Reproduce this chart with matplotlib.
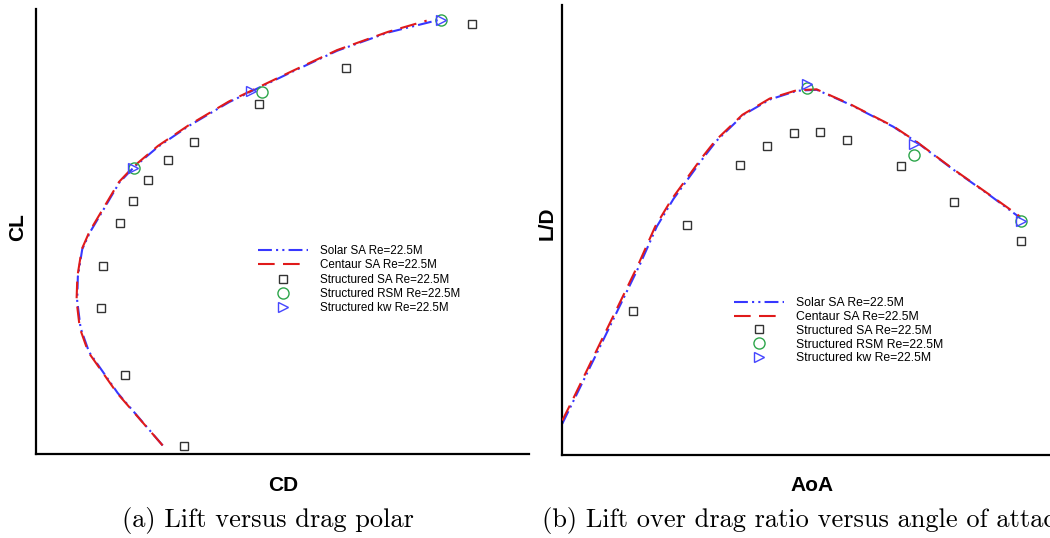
import matplotlib.pyplot as plt

plt.rcParams['font.family'] = ['Liberation Sans', 'DejaVu Sans']
plt.rcParams['lines.scale_dashes'] = False

# (a) lift versus drag polar
solar_cd = [0.01781, 0.01504, 0.01327, 0.01275, 0.01254, 0.01258, 0.01285, 0.01333, 0.01421,
            0.01514, 0.01604, 0.01754, 0.01941, 0.02191, 0.02357, 0.02586, 0.02857, 0.03169, 0.03482]
solar_cl = [-0.275, -0.122, -0.002, 0.068, 0.148, 0.218, 0.298, 0.348, 0.418,
            0.493, 0.538, 0.598, 0.658, 0.728, 0.766, 0.818, 0.878, 0.931, 0.968]
centaur_cd = [0.01781, 0.01500, 0.01322, 0.01270, 0.01250, 0.01255, 0.01282, 0.01330, 0.01418,
              0.01512, 0.01602, 0.01752, 0.01940, 0.02190, 0.02357, 0.02586, 0.02857, 0.03169, 0.03409]
centaur_cl = [-0.275, -0.122, -0.002, 0.068, 0.148, 0.218, 0.298, 0.350, 0.420,
              0.495, 0.540, 0.600, 0.660, 0.730, 0.768, 0.820, 0.880, 0.933, 0.966]
sa_cd = [0.0369, 0.0291, 0.02376, 0.01972, 0.01812, 0.01689, 0.01598, 0.01518, 0.01414, 0.01402, 0.0155, 0.0191]
sa_cl = [0.956, 0.829, 0.722, 0.612, 0.558, 0.501, 0.438, 0.376, 0.249, 0.127, -0.070, -0.277]
rsm_cd = [0.03496, 0.02391, 0.01604]
rsm_cl = [0.968, 0.757, 0.536]
kw_cd = [0.03496, 0.02326, 0.01598]
kw_cl = [0.968, 0.759, 0.536]

# (b) lift over drag versus angle of attack
solar_aoa = [-2.66, -2.25, -1.37, -0.37, 0.25, 0.88, 1.50, 2.62, 3.12, 4.12,
             5.12, 6.12, 6.86, 8.11, 9.73, 10.61, 11.98, 13.35, 14.47]
solar_ld = [1.54, 2.66, 5.06, 7.81, 9.52, 11.41, 12.78, 14.84, 15.70, 16.99,
            17.76, 18.19, 18.24, 17.50, 16.39, 15.61, 14.24, 12.95, 11.84]
centaur_aoa = [-2.66, -2.30, -1.43, -0.43, 0.19, 0.82, 1.44, 2.56, 3.07, 4.08,
               5.10, 6.12, 6.86, 8.11, 9.73, 10.61, 11.98, 13.35, 14.47]
centaur_ld = [1.70, 2.66, 5.06, 7.81, 9.52, 11.41, 12.78, 14.84, 15.70, 16.99,
              17.80, 18.22, 18.26, 17.52, 16.41, 15.63, 14.26, 12.97, 11.90]
sa_aoa = [0, 2, 4, 5, 6, 7, 8, 10, 12, 14.5]
sa_ld = [7.17, 11.50, 14.48, 15.41, 16.06, 16.15, 15.75, 14.41, 12.65, 10.69]
rsm_aoa = [6.5, 10.5, 14.5]
rsm_ld = [18.31, 15.00, 11.67]
kw_aoa = [6.5, 10.5, 14.5]
kw_ld = [18.53, 15.53, 11.67]

labels = ['Solar SA Re=22.5M', 'Centaur SA Re=22.5M', 'Structured SA Re=22.5M',
          'Structured RSM Re=22.5M', 'Structured kw Re=22.5M']

W, H = 1050, 538
fig = plt.figure(figsize=(10.5, 5.38), dpi=100)
ax1 = fig.add_axes([36 / W, 1 - 454 / H, 493 / W, 445 / H])
ax2 = fig.add_axes([562.3 / W, 1 - 454.5 / H, 495.7 / W, 449.5 / H])


def draw(ax, x1, y1, x2, y2, xs, ys, xr, yr, xk, yk):
    h1, = ax.plot(x1, y1, color='#3737ff', lw=1.5, ls=(0, (10, 3, 1.5, 3, 1.5, 3)), zorder=2)
    h2, = ax.plot(x2, y2, color='#e01a1a', lw=1.5, ls=(0, (12, 6)), zorder=3)
    h3, = ax.plot(xs, ys, ls='none', marker='s', ms=5.5, mfc='none', mec='#333333', mew=1.0, zorder=4)
    h4, = ax.plot(xr, yr, ls='none', marker='o', ms=8, mfc='none', mec='#2ca54a', mew=1.0, zorder=5)
    h5, = ax.plot(xk, yk, ls='none', marker='>', ms=7, mfc='none', mec='#4545ff', mew=1.0, zorder=6)
    for s in ['top', 'right']:
        ax.spines[s].set_visible(False)
    for s in ['left', 'bottom']:
        ax.spines[s].set_linewidth(1.6)
        ax.spines[s].set_color('black')
    ax.set_xticks([])
    ax.set_yticks([])
    return [h1, h2, h3, h4, h5]


hs = draw(ax1, solar_cd, solar_cl, centaur_cd, centaur_cl, sa_cd, sa_cl, rsm_cd, rsm_cl, kw_cd, kw_cl)
ax1.set_xlim(0.010, 0.0404)
ax1.set_ylim(-0.3, 1.0)
ax1.legend(hs, labels, loc='upper left', bbox_to_anchor=(258 / W, 1 - 245 / H),
           bbox_transform=fig.transFigure, frameon=False, fontsize=8.4,
           handlelength=4.3, handletextpad=1.0, labelspacing=0.2, borderpad=0, borderaxespad=0)
ax1.set_xlabel('CD', fontsize=15, fontweight='bold', va='center')
ax1.xaxis.set_label_coords(0.501, -0.071)
ax1.set_ylabel('CL', fontsize=15, fontweight='bold', va='center', ha='center')
ax1.yaxis.set_label_coords(-0.0365, 0.511)

hs = draw(ax2, solar_aoa, solar_ld, centaur_aoa, centaur_ld, sa_aoa, sa_ld, rsm_aoa, rsm_ld, kw_aoa, kw_ld)
ax2.set_xlim(-2.66, 15.89)
ax2.set_ylim(0, 22.48)
ax2.legend(hs, labels, loc='upper left', bbox_to_anchor=(734 / W, 1 - 297 / H),
           bbox_transform=fig.transFigure, frameon=False, fontsize=8.8,
           handlelength=4.1, handletextpad=0.95, labelspacing=0.15, borderpad=0, borderaxespad=0)
ax2.set_xlabel('AoA', fontsize=15, fontweight='bold', va='center')
ax2.xaxis.set_label_coords(0.503, -0.069)
ax2.set_ylabel('L/D', fontsize=15, fontweight='bold', va='center', ha='center')
ax2.yaxis.set_label_coords(-0.0315, 0.515)

fig.text(268 / W, 1 - 521 / H, '(a) Lift versus drag polar', ha='center', va='center',
         family='cmr10', fontsize=19)
fig.text(541.7 / W, 1 - 521 / H, '(b) Lift over drag ratio versus angle of attack', ha='left', va='center',
         family='cmr10', fontsize=19)

fig.savefig('out.png', dpi=100)
